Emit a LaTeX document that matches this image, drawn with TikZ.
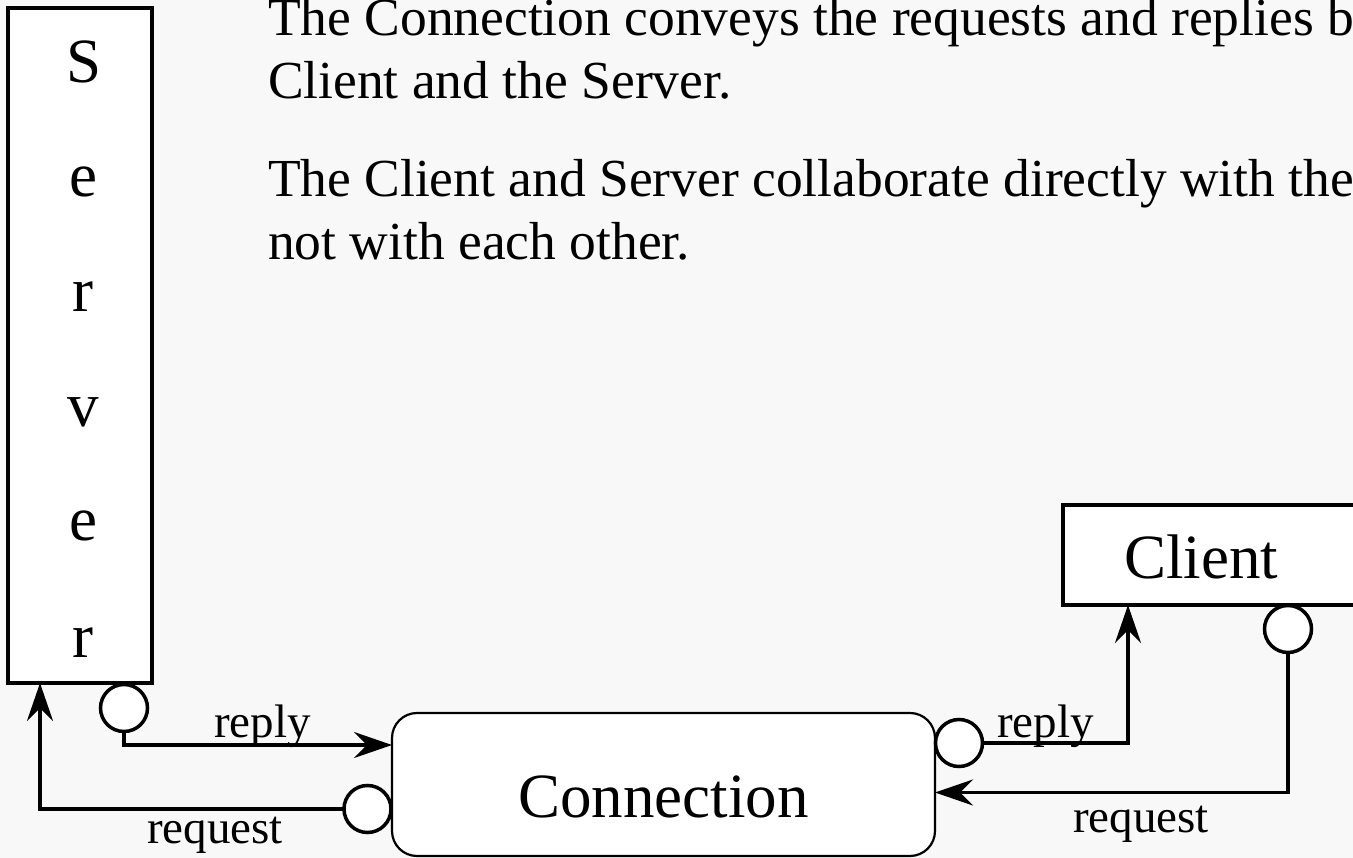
\documentclass[tikz,border=0pt]{standalone}
\usepackage{fontspec}
\setmainfont{Liberation Serif}
\usetikzlibrary{arrows.meta}
\definecolor{bg}{HTML}{F8F8F8}
\begin{document}
\begin{tikzpicture}[x=1pt,y=-1pt,
  bigtext/.style={font=\fontsize{63}{63}\selectfont, inner sep=0pt, outer sep=0pt},
  bodytext/.style={font=\fontsize{53.5}{60}\selectfont, inner sep=0pt, outer sep=0pt, anchor=base west},
  labeltext/.style={font=\fontsize{47}{50}\selectfont, inner sep=0pt, outer sep=0pt, anchor=base west},
  squarebox/.style={draw, line width=3.5pt, fill=white, inner sep=0pt, outer sep=0pt},
  roundbox/.style={draw, line width=2.2pt, fill=white, rounded corners=25pt, inner sep=0pt, outer sep=0pt},
  lolly/.style={draw, circle, line width=3.5pt, fill=white, minimum size=47pt, inner sep=0pt, outer sep=0pt},
  conn/.style={line width=3.5pt, -{Stealth[length=38pt, width=26pt, inset=13pt]}},
  wire/.style={line width=3.5pt}]
\useasboundingbox (0,0) rectangle (1353,858);
\fill[bg] (0,0) rectangle (1353,858);
\begin{scope}
\clip (0,0) rectangle (1353,858);
% text
\node[bodytext] (t1) at (268,36) {The Connection conveys the requests and replies between the};
\node[bodytext] (t2) at (268,99) {Client and the Server.};
\node[bodytext] (t3) at (268,197) {The Client and Server collaborate directly with the Connection,};
\node[bodytext] (t4) at (268,260) {not with each other.};
% server
\node[squarebox, minimum width=144pt, minimum height=675pt] (server) at (80,345.5) {};
\node[bigtext, anchor=base] (s1) at (84,83) {S};
\node[bigtext, anchor=base] (s2) at (83,197) {e};
\node[bigtext, anchor=base] (s3) at (83,312) {r};
\node[bigtext, anchor=base] (s4) at (83,427) {v};
\node[bigtext, anchor=base] (s5) at (83,540) {e};
\node[bigtext, anchor=base] (s6) at (83,657) {r};
% connection
\node[roundbox, minimum width=543pt, minimum height=143pt] (connection) at (663.5,784.5) {};
\node[bigtext, anchor=base] (conntext) at (663.5,817) {Connection};
% client
\node[squarebox, minimum width=310pt, minimum height=100pt] (client) at (1218,555) {};
\node[bigtext, anchor=base west] (clienttext) at (1124,578) {Client};
% lollipops
\node[lolly] (sc) at (124,708) {};
\node[lolly] (ccl) at (367.5,809) {};
\node[lolly] (ccr) at (959,743) {};
\node[lolly] (clc) at (1288,629) {};
% connectors
\draw[conn] (sc.south) |- ([yshift=39.5pt]connection.west);
\draw[conn] (ccl.west) -| ([xshift=32pt]server.south west);
\draw[conn] (ccr.east) -| ([xshift=65pt]client.south west);
\draw[conn] (clc.south) |- ([yshift=-8pt]connection.east);
% labels
\node[labeltext] (l1) at (214,737) {reply};
\node[labeltext] (l2) at (147,843) {request};
\node[labeltext] (l3) at (997,737) {reply};
\node[labeltext] (l4) at (1073,832) {request};
\end{scope}
\end{tikzpicture}
\end{document}
